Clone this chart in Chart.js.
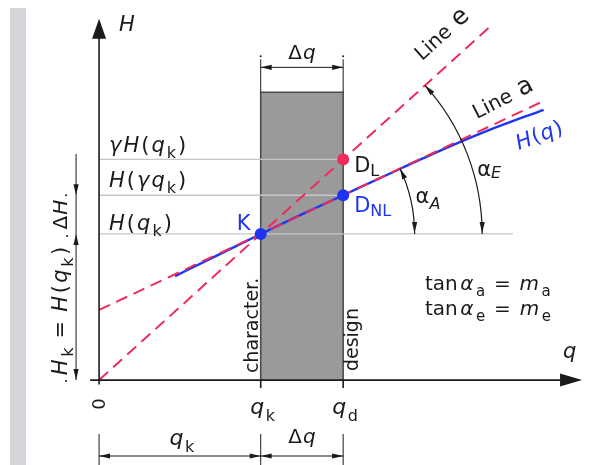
<!DOCTYPE html>
<html>
<head>
<meta charset="utf-8">
<script src="https://cdn.jsdelivr.net/npm/chart.js@4.4.1/dist/chart.umd.min.js"></script>
<style>
  html, body { margin: 0; padding: 0; background: #fff; }
  #wrap { position: relative; width: 590px; height: 465px; }
  #strip { position: absolute; left: 10px; top: 8px; width: 16px; height: 457px; background: #d5d6d9; }
  #diagram { position: absolute; left: 0; top: 0; }
</style>
</head>
<body>
<div id="wrap">
  <div id="strip"></div>
  <canvas id="diagram" width="590" height="465"></canvas>
</div>
<script>
// characteristic point K and design point D: H(q) with secant (line a) and line through origin (line e)

const qK = 1.0;
const qD = 1.51;
const rectTop = 1.97;

// levels on the H axis: H(qk), H(γqk), γH(qk)
const levelValues = [1.0, 1.265, 1.51];
const levelEnds = [2.56, 1.51, 1.51];

// line e through the origin, line a through K and D_NL
const lineEQ = [0, 2.41];
const lineEH = [0, 2.41];
const lineAQ = [0, 2.75];
const lineAH = [0.48, 1.91];

// non-linear response H(q)
const curveQ = [0.47, 0.7, 1.0, 1.25, 1.51, 1.8, 2.1, 2.4, 2.75];
const curveH = [0.712, 0.836, 1.0, 1.132, 1.265, 1.414, 1.565, 1.705, 1.85];

// marked points K, D_NL, D_L
const pointQ = [1.0, 1.51, 1.51];
const pointH = [1.0, 1.265, 1.51];

// tick positions 0, q_k, q_d
const tickQ = [0, 1.0, 1.51];

// where the angle arcs meet the horizontal through K
const arcEndQ = [1.952, 2.37];

const RED = '#ee2b5b';
const BLUE = '#1d35f2';
const INK = '#1a1a1a';
const FONT = '"DejaVu Sans", Verdana, sans-serif';

const zip = (xs, ys) => xs.map((x, i) => ({ x, y: ys[i] }));

function fontOf(style, size) {
    const sub = style[0] === 's';
    const big = style.includes('b');
    const italic = style.includes('i');
    const sz = sub ? Math.round(size * 0.74) : big ? Math.round(size * 1.25) : size;
    return `${italic ? 'italic ' : ''}${sz}px ${FONT}`;
}

// draws text made of parts like ['H','i'], ['k','s'] (n = normal, i = italic, s = subscript, b = big)
function richText(ctx, parts, x, y, size, opts = {}) {
    const gap = opts.gap ?? 0;
    const widths = parts.map(([t, s]) => { ctx.font = fontOf(s, size); return ctx.measureText(t).width; });
    const total = widths.reduce((a, b) => a + b, 0) + gap * (parts.length - 1);
    let cx = opts.align === 'center' ? x - total / 2 : opts.align === 'right' ? x - total : x;
    ctx.fillStyle = opts.color ?? INK;
    ctx.textAlign = 'left';
    ctx.textBaseline = 'alphabetic';
    parts.forEach(([t, s], i) => {
        ctx.font = fontOf(s, size);
        const dy = s[0] === 's' ? size * (opts.drop ?? 0.28) : 0;
        ctx.fillText(t, cx, y + dy);
        cx += widths[i] + gap;
    });
}

function arrowHead(ctx, x, y, ang, len = 11, hw = 2.6) {
    ctx.save();
    ctx.translate(x, y);
    ctx.rotate(ang);
    ctx.beginPath();
    ctx.moveTo(0, 0);
    ctx.lineTo(-len, -hw);
    ctx.lineTo(-len, hw);
    ctx.closePath();
    ctx.fill();
    ctx.restore();
}

function seg(ctx, x1, y1, x2, y2) {
    ctx.beginPath();
    ctx.moveTo(x1, y1);
    ctx.lineTo(x2, y2);
    ctx.stroke();
}

function dot(ctx, x, y) {
    ctx.beginPath();
    ctx.arc(x, y, 1, 0, Math.PI * 2);
    ctx.fill();
}

function rotated(ctx, x, y, ang, fn) {
    ctx.save();
    ctx.translate(x, y);
    ctx.rotate(ang);
    fn();
    ctx.restore();
}

/* ===================== ANNOTATIONS ===================== */
const annotations = {
    id: 'annotations',
    afterDatasetsDraw(chart) {
        const ctx = chart.ctx;
        const xs = chart.scales.x, ys = chart.scales.y;
        const px = v => xs.getPixelForValue(v);
        const py = v => ys.getPixelForValue(v);
        const x0 = px(0), y0 = py(0);

        ctx.save();
        ctx.strokeStyle = INK;
        ctx.fillStyle = INK;

        // axes with arrows
        ctx.lineWidth = 1.6;
        seg(ctx, x0, py(-0.03), x0, py(2.40));
        arrowHead(ctx, x0, py(2.473), -Math.PI / 2, 20, 7);
        seg(ctx, px(-0.055), y0, px(2.90), y0);
        arrowHead(ctx, px(2.988), y0, 0, 22, 6.5);
        tickQ.slice(1).forEach(q => seg(ctx, px(q), y0, px(q), y0 + 8));

        richText(ctx, [['H', 'i']], x0 + 20, 31, 21);
        richText(ctx, [['q', 'i']], px(2.87), 358, 21);

        // tick labels
        rotated(ctx, x0 + 6, 404, -Math.PI / 2, () => {
            ctx.font = `18px ${FONT}`;
            ctx.textAlign = 'center';
            ctx.fillText('0', 0, 0);
        });
        richText(ctx, [['q', 'i'], ['k', 's']], px(tickQ[1]) + 2, 414, 22, { align: 'center', gap: 1.5, drop: 0.3 });
        richText(ctx, [['q', 'i'], ['d', 's']], px(tickQ[2]) + 2, 414, 22, { align: 'center', gap: 1.5, drop: 0.3 });

        // top dimension Δq
        ctx.lineWidth = 1;
        const yTop = py(2.14);
        seg(ctx, px(qK), py(rectTop), px(qK), yTop - 8);
        seg(ctx, px(qD), py(rectTop), px(qD), yTop - 8);
        dot(ctx, px(qK), yTop - 11);
        dot(ctx, px(qD), yTop - 11);
        seg(ctx, px(qK), yTop, px(qD), yTop);
        arrowHead(ctx, px(qK), yTop, Math.PI);
        arrowHead(ctx, px(qD), yTop, 0);
        richText(ctx, [['Δ', 'n'], ['q', 'i']], (px(qK) + px(qD)) / 2, yTop - 8, 20, { align: 'center', gap: 1 });

        // bottom dimension q_k | Δq
        const yBot = 456;
        [0, qK, qD].forEach(q => seg(ctx, px(q), yBot - 22, px(q), 465));
        seg(ctx, x0, yBot, px(qD), yBot);
        arrowHead(ctx, x0, yBot, Math.PI);
        arrowHead(ctx, px(qK), yBot, 0);
        arrowHead(ctx, px(qK), yBot, Math.PI);
        arrowHead(ctx, px(qD), yBot, 0);
        richText(ctx, [['q', 'i'], ['k', 's']], (x0 + px(qK)) / 2 + 2, 445, 22, { align: 'center', gap: 1.5, drop: 0.3 });
        richText(ctx, [['Δ', 'n'], ['q', 'i']], (px(qK) + px(qD)) / 2, 443, 20, { align: 'center', gap: 1 });

        // left dimension ΔH and H_k
        const xd = x0 - 23;
        seg(ctx, xd, py(1.52) - 4, xd, y0);
        arrowHead(ctx, xd, py(levelValues[1]), Math.PI / 2);
        arrowHead(ctx, xd, py(levelValues[0]), -Math.PI / 2);
        arrowHead(ctx, xd, y0, Math.PI / 2);
        dot(ctx, xd - 10, py(levelValues[1]));
        dot(ctx, xd - 9, py(levelValues[0]) + 2);
        dot(ctx, xd - 10, y0 + 1);
        rotated(ctx, xd - 9, (py(levelValues[1]) + py(levelValues[0])) / 2, -Math.PI / 2, () => {
            richText(ctx, [['Δ', 'n'], ['H', 'i']], 0, 0, 20, { align: 'center', gap: 1 });
        });
        rotated(ctx, xd - 9, (py(levelValues[0]) + y0) / 2 + 4, -Math.PI / 2, () => {
            richText(ctx, [['H', 'i'], ['k', 's'], [' = ', 'n'], ['H', 'i'], ['(', 'n'], ['q', 'i'], ['k', 's'], [')', 'n']],
                0, 0, 21, { align: 'center', gap: 2.5 });
        });

        // level labels
        const levelParts = [
            [['H', 'i'], ['(', 'n'], ['q', 'i'], ['k', 's'], [')', 'n']],
            [['H', 'i'], ['(', 'n'], ['γ', 'i'], ['q', 'i'], ['k', 's'], [')', 'n']],
            [['γ', 'i'], ['H', 'i'], ['(', 'n'], ['q', 'i'], ['k', 's'], [')', 'n']],
        ];
        const levelLift = [4, 8, 7];
        levelValues.forEach((h, i) => richText(ctx, levelParts[i], x0 + 10, py(h) - levelLift[i], 21, { gap: 2 }));

        // vertical notes in the band
        rotated(ctx, px(qK) - 3, y0 - 7, -Math.PI / 2, () => {
            ctx.font = `19px ${FONT}`;
            ctx.textAlign = 'left';
            ctx.fillText('character.', 0, 0);
        });
        rotated(ctx, px(qD) + 15, y0 - 9, -Math.PI / 2, () => {
            ctx.font = `19px ${FONT}`;
            ctx.textAlign = 'left';
            ctx.fillText('design', 0, 0);
        });

        // angle arcs about K
        const cx = px(qK), cy = py(1.0);
        const angA = Math.atan2(py(lineAH[1]) - py(lineAH[0]), px(lineAQ[1]) - px(lineAQ[0]));
        const angE = Math.atan2(py(lineEH[1]) - py(lineEH[0]), px(lineEQ[1]) - px(lineEQ[0]));
        ctx.lineWidth = 1.2;
        [angA, angE].forEach((ang, i) => {
            const r = px(arcEndQ[i]) - cx;
            ctx.beginPath();
            ctx.arc(cx, cy, r, ang, 0);
            ctx.stroke();
            arrowHead(ctx, cx + r, cy - 1, Math.PI / 2, 11, 2.6);
            arrowHead(ctx, cx + r * Math.cos(ang), cy + r * Math.sin(ang), Math.atan2(-Math.cos(ang), Math.sin(ang)), 11, 2.6);
        });
        richText(ctx, [['α', 'n'], ['A', 'si']], px(arcEndQ[0]) + 1, cy - 31, 21, { drop: 0.3 });
        richText(ctx, [['α', 'n'], ['E', 'si']], px(arcEndQ[1]) - 5, cy - 58, 21, { drop: 0.12 });

        // line names along the lines
        rotated(ctx, px(2.08), py(2.08), angE, () => {
            richText(ctx, [['Line ', 'n'], ['e', 'b']], 0, -20, 20, { gap: 2 });
        });
        rotated(ctx, px(2.37), py(lineAH[0] + 0.52 * 2.37), angA - 0.03, () => {
            richText(ctx, [['Line ', 'n'], ['a', 'b']], 0, -12, 20, { gap: 2 });
        });
        rotated(ctx, px(2.68), py(1.80), -0.36, () => {
            richText(ctx, [['H', 'i'], ['(', 'n'], ['q', 'i'], [')', 'n']], 0, 26, 21, { align: 'center', color: BLUE, gap: 1 });
        });

        // point names
        richText(ctx, [['K', 'n']], px(pointQ[0]) - 24, py(pointH[0]) - 4, 21, { color: BLUE });
        richText(ctx, [['D', 'n'], ['NL', 's']], px(pointQ[1]) + 11, py(pointH[1]) + 17, 21, { color: BLUE, drop: 0.18 });
        richText(ctx, [['D', 'n'], ['L', 's']], px(pointQ[2]) + 11, py(pointH[2]) + 13, 21, { drop: 0.18 });

        // slopes
        richText(ctx, [['tan', 'n'], ['α', 'i'], ['a', 's'], [' = ', 'n'], ['m', 'i'], ['a', 's']], 425, 290, 20, { gap: 2.5 });
        richText(ctx, [['tan', 'n'], ['α', 'i'], ['e', 's'], [' = ', 'n'], ['m', 'i'], ['e', 's']], 425, 315, 20, { gap: 2.5 });

        ctx.restore();
    }
};

/* ===================== DATASETS ===================== */
const datasets = [];

// design band between q_k and q_d
datasets.push({
    data: zip([qK, qK, qD, qD], [0, rectTop, rectTop, 0]),
    showLine: true, fill: 'origin', tension: 0,
    backgroundColor: '#9a9a9a', borderColor: '#4c4c4c', borderWidth: 1.6,
    borderJoinStyle: 'miter', pointRadius: 0, order: 10
});

levelValues.forEach((h, i) => {
    datasets.push({
        data: zip([0, levelEnds[i]], [h, h]),
        showLine: true, borderColor: '#c6c6c6', borderWidth: 1.3, pointRadius: 0, order: 9
    });
});

datasets.push({
    data: zip(curveQ, curveH),
    showLine: true, borderColor: BLUE, borderWidth: 2.4,
    cubicInterpolationMode: 'monotone', pointRadius: 0, order: 8
});

[[lineEQ, lineEH], [lineAQ, lineAH]].forEach(([q, h]) => {
    datasets.push({
        data: zip(q, h),
        showLine: true, borderColor: RED, borderWidth: 2, borderDash: [12, 7],
        pointRadius: 0, order: 7
    });
});

datasets.push({
    data: zip(pointQ, pointH),
    showLine: false, pointRadius: 6, pointBorderWidth: 0,
    pointBackgroundColor: [BLUE, BLUE, RED], order: 1
});

const ctx = document.getElementById('diagram').getContext('2d');
new Chart(ctx, {
    type: 'scatter',
    data: { datasets },
    options: {
        responsive: false,
        animation: false,
        layout: { padding: 0 },
        plugins: { legend: { display: false }, tooltip: { enabled: false } },
        scales: {
            x: { type: 'linear', display: false, min: -0.5758, max: 3.0 },
            y: { type: 'linear', display: false, min: -0.54, max: 2.56 }
        }
    },
    plugins: [annotations]
});
</script>
</body>
</html>
